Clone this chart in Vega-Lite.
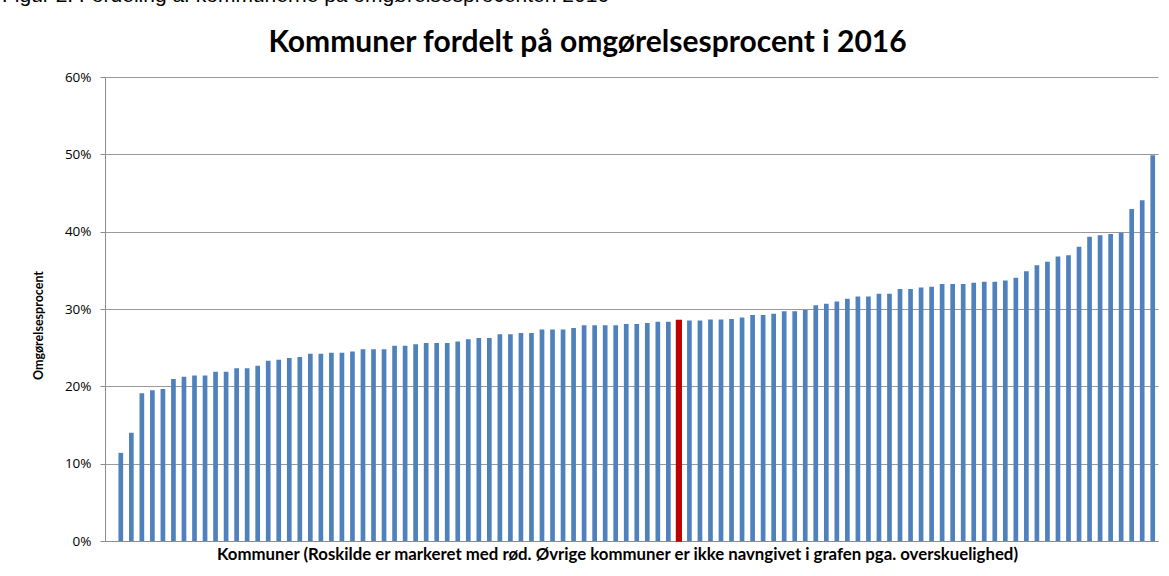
{
  "$schema": "https://vega.github.io/schema/vega-lite/v6.json",
  "autosize": {"type": "none"},
  "width": 1053,
  "height": 464,
  "padding": {"left": 105, "top": 77, "right": 11, "bottom": 35},
  "background": "white",
  "config": {"view": {"stroke": null}, "font": "Lato"},
  "title": {
    "text": "Figur 2: Fordeling af kommunerne på omgørelsesprocenten 2016",
    "anchor": "start",
    "frame": "group",
    "dx": -103,
    "dy": 15,
    "font": "Liberation Sans",
    "fontSize": 21,
    "fontWeight": "normal",
    "color": "#000000",
    "baseline": "alphabetic",
    "offset": 19
  },
  "data": {
    "values": [
      {"rang": 1, "omgoerelsesprocent": 0.114, "kommune": "Øvrige"},
      {"rang": 2, "omgoerelsesprocent": 0.140, "kommune": "Øvrige"},
      {"rang": 3, "omgoerelsesprocent": 0.191, "kommune": "Øvrige"},
      {"rang": 4, "omgoerelsesprocent": 0.195, "kommune": "Øvrige"},
      {"rang": 5, "omgoerelsesprocent": 0.1965, "kommune": "Øvrige"},
      {"rang": 6, "omgoerelsesprocent": 0.2095, "kommune": "Øvrige"},
      {"rang": 7, "omgoerelsesprocent": 0.2125, "kommune": "Øvrige"},
      {"rang": 8, "omgoerelsesprocent": 0.214, "kommune": "Øvrige"},
      {"rang": 9, "omgoerelsesprocent": 0.214, "kommune": "Øvrige"},
      {"rang": 10, "omgoerelsesprocent": 0.219, "kommune": "Øvrige"},
      {"rang": 11, "omgoerelsesprocent": 0.219, "kommune": "Øvrige"},
      {"rang": 12, "omgoerelsesprocent": 0.2235, "kommune": "Øvrige"},
      {"rang": 13, "omgoerelsesprocent": 0.2235, "kommune": "Øvrige"},
      {"rang": 14, "omgoerelsesprocent": 0.2265, "kommune": "Øvrige"},
      {"rang": 15, "omgoerelsesprocent": 0.233, "kommune": "Øvrige"},
      {"rang": 16, "omgoerelsesprocent": 0.2345, "kommune": "Øvrige"},
      {"rang": 17, "omgoerelsesprocent": 0.2365, "kommune": "Øvrige"},
      {"rang": 18, "omgoerelsesprocent": 0.238, "kommune": "Øvrige"},
      {"rang": 19, "omgoerelsesprocent": 0.242, "kommune": "Øvrige"},
      {"rang": 20, "omgoerelsesprocent": 0.242, "kommune": "Øvrige"},
      {"rang": 21, "omgoerelsesprocent": 0.2435, "kommune": "Øvrige"},
      {"rang": 22, "omgoerelsesprocent": 0.2435, "kommune": "Øvrige"},
      {"rang": 23, "omgoerelsesprocent": 0.245, "kommune": "Øvrige"},
      {"rang": 24, "omgoerelsesprocent": 0.248, "kommune": "Øvrige"},
      {"rang": 25, "omgoerelsesprocent": 0.248, "kommune": "Øvrige"},
      {"rang": 26, "omgoerelsesprocent": 0.248, "kommune": "Øvrige"},
      {"rang": 27, "omgoerelsesprocent": 0.2525, "kommune": "Øvrige"},
      {"rang": 28, "omgoerelsesprocent": 0.2525, "kommune": "Øvrige"},
      {"rang": 29, "omgoerelsesprocent": 0.2545, "kommune": "Øvrige"},
      {"rang": 30, "omgoerelsesprocent": 0.256, "kommune": "Øvrige"},
      {"rang": 31, "omgoerelsesprocent": 0.256, "kommune": "Øvrige"},
      {"rang": 32, "omgoerelsesprocent": 0.256, "kommune": "Øvrige"},
      {"rang": 33, "omgoerelsesprocent": 0.258, "kommune": "Øvrige"},
      {"rang": 34, "omgoerelsesprocent": 0.261, "kommune": "Øvrige"},
      {"rang": 35, "omgoerelsesprocent": 0.2625, "kommune": "Øvrige"},
      {"rang": 36, "omgoerelsesprocent": 0.2625, "kommune": "Øvrige"},
      {"rang": 37, "omgoerelsesprocent": 0.2675, "kommune": "Øvrige"},
      {"rang": 38, "omgoerelsesprocent": 0.2675, "kommune": "Øvrige"},
      {"rang": 39, "omgoerelsesprocent": 0.269, "kommune": "Øvrige"},
      {"rang": 40, "omgoerelsesprocent": 0.269, "kommune": "Øvrige"},
      {"rang": 41, "omgoerelsesprocent": 0.2735, "kommune": "Øvrige"},
      {"rang": 42, "omgoerelsesprocent": 0.2735, "kommune": "Øvrige"},
      {"rang": 43, "omgoerelsesprocent": 0.2735, "kommune": "Øvrige"},
      {"rang": 44, "omgoerelsesprocent": 0.2755, "kommune": "Øvrige"},
      {"rang": 45, "omgoerelsesprocent": 0.279, "kommune": "Øvrige"},
      {"rang": 46, "omgoerelsesprocent": 0.279, "kommune": "Øvrige"},
      {"rang": 47, "omgoerelsesprocent": 0.279, "kommune": "Øvrige"},
      {"rang": 48, "omgoerelsesprocent": 0.279, "kommune": "Øvrige"},
      {"rang": 49, "omgoerelsesprocent": 0.2805, "kommune": "Øvrige"},
      {"rang": 50, "omgoerelsesprocent": 0.2805, "kommune": "Øvrige"},
      {"rang": 51, "omgoerelsesprocent": 0.282, "kommune": "Øvrige"},
      {"rang": 52, "omgoerelsesprocent": 0.2835, "kommune": "Øvrige"},
      {"rang": 53, "omgoerelsesprocent": 0.2835, "kommune": "Øvrige"},
      {"rang": 54, "omgoerelsesprocent": 0.285, "kommune": "Roskilde"},
      {"rang": 55, "omgoerelsesprocent": 0.285, "kommune": "Øvrige"},
      {"rang": 56, "omgoerelsesprocent": 0.285, "kommune": "Øvrige"},
      {"rang": 57, "omgoerelsesprocent": 0.2865, "kommune": "Øvrige"},
      {"rang": 58, "omgoerelsesprocent": 0.2865, "kommune": "Øvrige"},
      {"rang": 59, "omgoerelsesprocent": 0.2872, "kommune": "Øvrige"},
      {"rang": 60, "omgoerelsesprocent": 0.289, "kommune": "Øvrige"},
      {"rang": 61, "omgoerelsesprocent": 0.2923, "kommune": "Øvrige"},
      {"rang": 62, "omgoerelsesprocent": 0.2923, "kommune": "Øvrige"},
      {"rang": 63, "omgoerelsesprocent": 0.294, "kommune": "Øvrige"},
      {"rang": 64, "omgoerelsesprocent": 0.297, "kommune": "Øvrige"},
      {"rang": 65, "omgoerelsesprocent": 0.297, "kommune": "Øvrige"},
      {"rang": 66, "omgoerelsesprocent": 0.2987, "kommune": "Øvrige"},
      {"rang": 67, "omgoerelsesprocent": 0.305, "kommune": "Øvrige"},
      {"rang": 68, "omgoerelsesprocent": 0.3068, "kommune": "Øvrige"},
      {"rang": 69, "omgoerelsesprocent": 0.3098, "kommune": "Øvrige"},
      {"rang": 70, "omgoerelsesprocent": 0.3132, "kommune": "Øvrige"},
      {"rang": 71, "omgoerelsesprocent": 0.3162, "kommune": "Øvrige"},
      {"rang": 72, "omgoerelsesprocent": 0.3162, "kommune": "Øvrige"},
      {"rang": 73, "omgoerelsesprocent": 0.3197, "kommune": "Øvrige"},
      {"rang": 74, "omgoerelsesprocent": 0.3197, "kommune": "Øvrige"},
      {"rang": 75, "omgoerelsesprocent": 0.326, "kommune": "Øvrige"},
      {"rang": 76, "omgoerelsesprocent": 0.326, "kommune": "Øvrige"},
      {"rang": 77, "omgoerelsesprocent": 0.3277, "kommune": "Øvrige"},
      {"rang": 78, "omgoerelsesprocent": 0.3288, "kommune": "Øvrige"},
      {"rang": 79, "omgoerelsesprocent": 0.3323, "kommune": "Øvrige"},
      {"rang": 80, "omgoerelsesprocent": 0.3323, "kommune": "Øvrige"},
      {"rang": 81, "omgoerelsesprocent": 0.3323, "kommune": "Øvrige"},
      {"rang": 82, "omgoerelsesprocent": 0.334, "kommune": "Øvrige"},
      {"rang": 83, "omgoerelsesprocent": 0.3353, "kommune": "Øvrige"},
      {"rang": 84, "omgoerelsesprocent": 0.3353, "kommune": "Øvrige"},
      {"rang": 85, "omgoerelsesprocent": 0.337, "kommune": "Øvrige"},
      {"rang": 86, "omgoerelsesprocent": 0.3405, "kommune": "Øvrige"},
      {"rang": 87, "omgoerelsesprocent": 0.3487, "kommune": "Øvrige"},
      {"rang": 88, "omgoerelsesprocent": 0.3565, "kommune": "Øvrige"},
      {"rang": 89, "omgoerelsesprocent": 0.3612, "kommune": "Øvrige"},
      {"rang": 90, "omgoerelsesprocent": 0.368, "kommune": "Øvrige"},
      {"rang": 91, "omgoerelsesprocent": 0.3694, "kommune": "Øvrige"},
      {"rang": 92, "omgoerelsesprocent": 0.3806, "kommune": "Øvrige"},
      {"rang": 93, "omgoerelsesprocent": 0.3935, "kommune": "Øvrige"},
      {"rang": 94, "omgoerelsesprocent": 0.3953, "kommune": "Øvrige"},
      {"rang": 95, "omgoerelsesprocent": 0.397, "kommune": "Øvrige"},
      {"rang": 96, "omgoerelsesprocent": 0.3987, "kommune": "Øvrige"},
      {"rang": 97, "omgoerelsesprocent": 0.4293, "kommune": "Øvrige"},
      {"rang": 98, "omgoerelsesprocent": 0.4405, "kommune": "Øvrige"},
      {"rang": 99, "omgoerelsesprocent": 0.4987, "kommune": "Øvrige"}
    ]
  },
  "layer": [
    {
      "transform": [{"filter": "datum.kommune !== 'Roskilde'"}],
      "mark": {"type": "bar", "color": "#4F81BD"},
      "encoding": {
        "x": {
          "field": "rang",
          "type": "ordinal",
          "scale": {
            "domain": [0,1,2,3,4,5,6,7,8,9,10,11,12,13,14,15,16,17,18,19,20,21,22,23,24,25,26,27,28,29,30,31,32,33,34,35,36,37,38,39,40,41,42,43,44,45,46,47,48,49,50,51,52,53,54,55,56,57,58,59,60,61,62,63,64,65,66,67,68,69,70,71,72,73,74,75,76,77,78,79,80,81,82,83,84,85,86,87,88,89,90,91,92,93,94,95,96,97,98,99],
            "paddingInner": 0.555,
            "paddingOuter": 0.2775
          },
          "axis": {
            "orient": "bottom",
            "labels": false,
            "ticks": false,
            "grid": false,
            "domainColor": "#8c8c8c",
            "domainWidth": 1,
            "title": "Kommuner (Roskilde  er markeret med rød. Øvrige kommuner er ikke navngivet i grafen pga. overskuelighed)",
            "titleFont": "Lato",
            "titleFontSize": 16.8,
            "titleFontWeight": "bold",
            "titleColor": "#000000",
            "titlePadding": 5,
            "titleX": 512
          }
        },
        "y": {
          "field": "omgoerelsesprocent",
          "type": "quantitative",
          "scale": {"domain": [0, 0.6], "nice": false, "zero": true},
          "axis": {
            "values": [0, 0.1, 0.2, 0.3, 0.4, 0.5, 0.6],
            "format": ".0%",
            "grid": true,
            "gridColor": "#999999",
            "gridWidth": 1,
            "domainColor": "#8c8c8c",
            "tickColor": "#8c8c8c",
            "tickSize": 5,
            "labelPadding": 9,
            "labelFont": "Open Sans",
            "labelFontSize": 13.5,
            "labelColor": "#000000",
            "title": "Omgørelsesprocent",
            "titleFont": "Lato",
            "titleFontSize": 12.5,
            "titleFontWeight": "bold",
            "titleColor": "#000000",
            "titleX": -60,
            "titleY": 248
          }
        }
      }
    },
    {
      "transform": [{"filter": "datum.kommune === 'Roskilde'"}],
      "mark": {"type": "bar", "color": "#C00000", "stroke": "#C00000", "strokeWidth": 1.5},
      "encoding": {
        "x": {
          "field": "rang",
          "type": "ordinal",
          "scale": {
            "domain": [0,1,2,3,4,5,6,7,8,9,10,11,12,13,14,15,16,17,18,19,20,21,22,23,24,25,26,27,28,29,30,31,32,33,34,35,36,37,38,39,40,41,42,43,44,45,46,47,48,49,50,51,52,53,54,55,56,57,58,59,60,61,62,63,64,65,66,67,68,69,70,71,72,73,74,75,76,77,78,79,80,81,82,83,84,85,86,87,88,89,90,91,92,93,94,95,96,97,98,99],
            "paddingInner": 0.555,
            "paddingOuter": 0.2775
          },
          "axis": {
            "orient": "top",
            "labels": false,
            "ticks": false,
            "domain": false,
            "grid": false,
            "title": "Kommuner fordelt på omgørelsesprocent i 2016",
            "titleFont": "Lato",
            "titleFontSize": 30,
            "titleFontWeight": "bold",
            "titleColor": "#000000",
            "titleBaseline": "alphabetic",
            "titleX": 482,
            "titleY": -26
          }
        },
        "y": {"field": "omgoerelsesprocent", "type": "quantitative"}
      }
    }
  ],
  "resolve": {"axis": {"x": "independent"}}
}
